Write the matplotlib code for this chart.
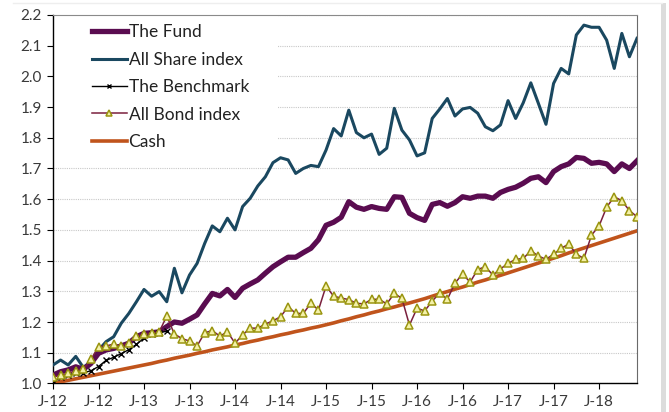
import numpy as np
import matplotlib
matplotlib.use("Agg")
import matplotlib.pyplot as plt
from matplotlib.patches import Rectangle
from matplotlib.lines import Line2D

plt.rcParams['font.family'] = ['Lato', 'DejaVu Sans']

# monthly index values, Jan 2012 .. Jun 2018
fund = [1.027, 1.038, 1.044, 1.054, 1.046, 1.065, 1.098, 1.109, 1.114, 1.122,
        1.131, 1.152, 1.163, 1.165, 1.168, 1.185, 1.200, 1.196, 1.209, 1.223,
        1.259, 1.293, 1.285, 1.306, 1.280, 1.310, 1.324, 1.337, 1.359, 1.380,
        1.396, 1.411, 1.411, 1.426, 1.440, 1.468, 1.515, 1.525, 1.541, 1.592,
        1.574, 1.567, 1.576, 1.570, 1.567, 1.608, 1.606, 1.554, 1.540, 1.531,
        1.583, 1.589, 1.577, 1.589, 1.608, 1.603, 1.610, 1.610, 1.603, 1.622,
        1.632, 1.639, 1.652, 1.668, 1.673, 1.654, 1.690, 1.706, 1.715, 1.736,
        1.733, 1.717, 1.720, 1.715, 1.690, 1.715, 1.700, 1.725]

all_share = [1.060, 1.076, 1.060, 1.088, 1.052, 1.071, 1.108, 1.136, 1.152, 1.196,
             1.228, 1.266, 1.306, 1.284, 1.299, 1.266, 1.375, 1.295, 1.353, 1.391,
             1.456, 1.513, 1.494, 1.538, 1.500, 1.576, 1.603, 1.643, 1.673, 1.719,
             1.735, 1.728, 1.684, 1.700, 1.710, 1.706, 1.760, 1.830, 1.806, 1.890,
             1.817, 1.800, 1.812, 1.746, 1.766, 1.896, 1.825, 1.793, 1.741, 1.751,
             1.863, 1.894, 1.928, 1.871, 1.894, 1.899, 1.880, 1.836, 1.823, 1.842,
             1.921, 1.863, 1.914, 1.979, 1.912, 1.844, 1.977, 2.026, 2.008, 2.135,
             2.167, 2.160, 2.160, 2.118, 2.026, 2.140, 2.064, 2.124]

benchmark = [1.000, 1.022, 1.027, 1.033, 1.035, 1.041, 1.055, 1.075, 1.085, 1.097,
             1.110, 1.127, 1.148, 1.160, 1.165, 1.170]

all_bond = [1.020, 1.027, 1.033, 1.041, 1.046, 1.078, 1.120, 1.122, 1.128, 1.122,
            1.132, 1.155, 1.160, 1.165, 1.168, 1.219, 1.161, 1.146, 1.138, 1.122,
            1.165, 1.172, 1.154, 1.168, 1.131, 1.158, 1.180, 1.180, 1.193, 1.204,
            1.217, 1.250, 1.228, 1.228, 1.261, 1.239, 1.317, 1.284, 1.278, 1.273,
            1.261, 1.259, 1.274, 1.274, 1.259, 1.293, 1.277, 1.190, 1.245, 1.236,
            1.268, 1.295, 1.274, 1.327, 1.356, 1.330, 1.371, 1.380, 1.353, 1.373,
            1.391, 1.404, 1.407, 1.432, 1.415, 1.404, 1.421, 1.440, 1.454, 1.421,
            1.407, 1.483, 1.513, 1.574, 1.608, 1.595, 1.563, 1.543]

cash = [1.000, 1.005, 1.010, 1.015, 1.020, 1.025, 1.030, 1.035, 1.040, 1.045,
        1.050, 1.055, 1.060, 1.065, 1.071, 1.076, 1.082, 1.087, 1.092, 1.098,
        1.103, 1.109, 1.114, 1.119, 1.125, 1.130, 1.136, 1.141, 1.147, 1.152,
        1.158, 1.163, 1.169, 1.174, 1.180, 1.185, 1.191, 1.197, 1.204, 1.210,
        1.217, 1.223, 1.230, 1.236, 1.243, 1.249, 1.256, 1.262, 1.269, 1.276,
        1.284, 1.292, 1.299, 1.307, 1.314, 1.322, 1.330, 1.337, 1.345, 1.352,
        1.360, 1.368, 1.376, 1.384, 1.392, 1.400, 1.408, 1.416, 1.425, 1.433,
        1.441, 1.449, 1.457, 1.465, 1.473, 1.481, 1.489, 1.497]

tick_labels = ['J-12', 'J-12', 'J-13', 'J-13', 'J-14', 'J-14', 'J-15', 'J-15',
               'J-16', 'J-16', 'J-17', 'J-17', 'J-18']

months = np.arange(len(fund))

fig = plt.figure(figsize=(6.69, 4.12), dpi=100)
ax = fig.add_axes([53 / 669, 1 - 383.4 / 412, 584 / 669, 368.4 / 412])

# outer chart border bits
fig.add_artist(Line2D([13 / 669, 662 / 669], [1 - 3 / 412, 1 - 3 / 412],
                      color='#eeeeee', lw=1, transform=fig.transFigure))
fig.add_artist(Rectangle((661 / 669, 0), 5 / 669, 1 - 3 / 412, transform=fig.transFigure,
                         facecolor='#dcdcdc', edgecolor='none'))

ax.plot(months, cash, color='#c0541c', lw=2.6, label='Cash', zorder=3)
ax.plot(months, all_share, color='#1a4860', lw=2.2, label='All Share index', zorder=4)
ax.plot(months, fund, color='#5a0c50', lw=3.8, label='The Fund', zorder=5)
ax.plot(months[:len(benchmark)], benchmark, color='black', lw=1.0, marker='x',
        markersize=4.5, markeredgewidth=1.0, label='The Benchmark', zorder=6)
ax.plot(months, all_bond, color='#7a1f3d', lw=1.1, marker='^', markersize=6,
        markerfacecolor='#f4f1a8', markeredgecolor='#9a9510', markeredgewidth=1.1,
        label='All Bond index', zorder=7)

ax.set_xlim(0, 77)
ax.set_ylim(1.0, 2.2)
ax.set_yticks(np.arange(1.0, 2.21, 0.1))
ax.set_yticklabels(['%.1f' % v for v in np.arange(1.0, 2.21, 0.1)])
ax.set_xticks(np.arange(0, 73, 6))
ax.set_xticklabels(tick_labels)

ax.grid(axis='y', color='#c8c8c8', linestyle=(0, (1, 1)), lw=0.8)
ax.set_axisbelow(True)

for side in ['left', 'bottom']:
    ax.spines[side].set_color('black')
    ax.spines[side].set_linewidth(1.0)
ax.spines['top'].set_color('#8a8a8a')
ax.spines['right'].set_color('#6a6a6a')
ax.tick_params(axis='both', direction='out', length=4, width=0.8, color='black',
               labelsize=11, labelcolor='#3a3a3a', pad=4)

# white box behind legend hides the grid there
ax.add_patch(Rectangle((0, 0.634), 0.385, 0.366, transform=ax.transAxes,
                       facecolor='white', edgecolor='none', zorder=1))

handles, labels = ax.get_legend_handles_labels()
order = ['The Fund', 'All Share index', 'The Benchmark', 'All Bond index', 'Cash']
h = [handles[labels.index(n)] for n in order]
ax.legend(h, order, loc='upper left', bbox_to_anchor=(0.055, 0.994), frameon=False,
          fontsize=12.5, handlelength=2.0, handletextpad=0.1, labelspacing=0.66,
          borderaxespad=0.0, markerscale=0.75, labelcolor='#222222')

fig.savefig('out.png', dpi=100)
